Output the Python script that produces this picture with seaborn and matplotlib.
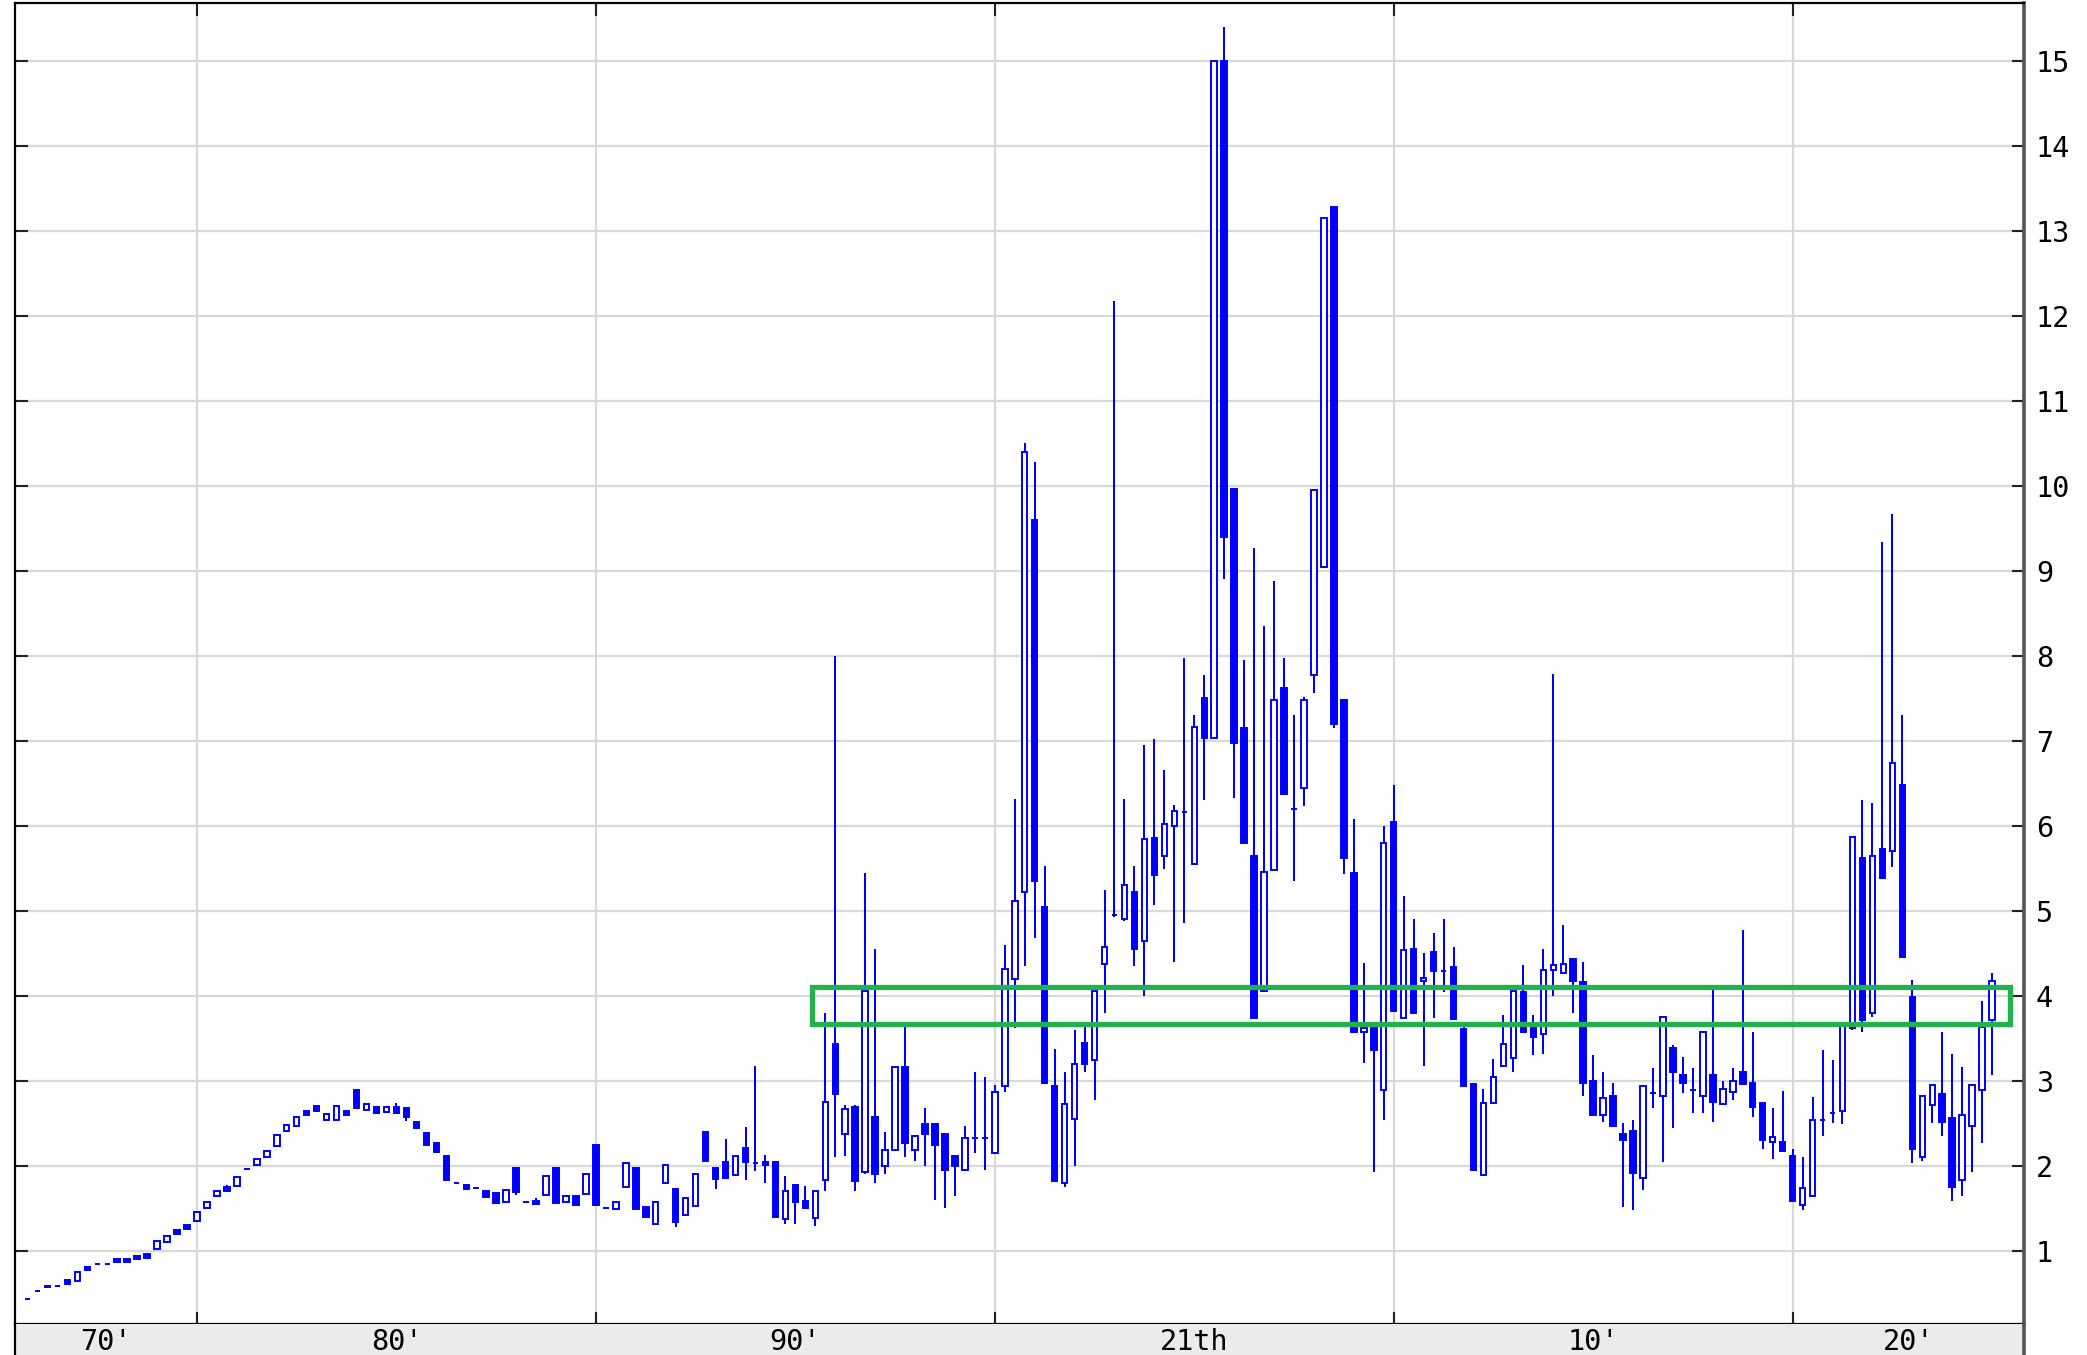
import numpy as np
import pandas as pd
import matplotlib
matplotlib.use("Agg")
import matplotlib.pyplot as plt
from matplotlib.patches import Rectangle
import seaborn as sns

# ---------------- data (quarterly candles) ----------------
opens = [
    0.43, 0.53, 0.59, 0.59, 0.66, 0.64, 0.81, 0.84, 0.84, 0.91,
    0.91, 0.94, 0.96, 1.02, 1.11, 1.25, 1.31, 1.35, 1.51, 1.64,
    1.75, 1.76, 1.96, 2.01, 2.10, 2.23, 2.41, 2.47, 2.64, 2.70,
    2.54, 2.54, 2.64, 2.89, 2.66, 2.69, 2.63, 2.69, 2.68, 2.52,
    2.39, 2.27, 2.12, 1.80, 1.77, 1.74, 1.71, 1.68, 1.57, 1.97,
    1.57, 1.59, 1.66, 1.98, 1.57, 1.65, 1.67, 2.25, 1.50, 1.49,
    1.75, 1.97, 1.52, 1.32, 1.80, 1.73, 1.42, 1.53, 2.40, 1.98,
    2.04, 1.89, 2.21, 2.03, 2.05, 2.04, 1.38, 1.78, 1.59, 1.39,
    1.83, 3.43, 2.38, 2.69, 1.93, 2.58, 2.00, 2.19, 3.16, 2.19,
    2.49, 2.49, 2.37, 2.12, 1.95, 2.33, 2.33, 2.15, 2.94, 4.20,
    5.22, 9.60, 5.05, 2.94, 1.80, 2.55, 3.45, 3.25, 4.37, 4.95,
    4.90, 5.22, 4.65, 5.86, 5.65, 6.00, 6.16, 5.55, 7.50, 7.03,
    15.00, 9.96, 7.15, 5.65, 4.06, 5.48, 7.62, 6.20, 6.45, 7.77,
    9.04, 13.28, 7.48, 5.45, 3.58, 3.63, 2.89, 6.05, 3.74, 4.55,
    4.17, 4.52, 4.29, 4.34, 3.61, 2.96, 1.89, 2.74, 3.17, 3.27,
    4.05, 3.67, 3.55, 4.30, 4.27, 4.43, 4.16, 3.00, 2.60, 2.82,
    2.38, 2.41, 1.86, 2.86, 2.82, 3.39, 3.07, 2.89, 2.82, 3.07,
    2.73, 2.87, 3.10, 2.98, 2.74, 2.28, 2.28, 2.12, 1.54, 1.65,
    2.54, 2.62, 2.64, 3.62, 5.62, 3.80, 5.73, 5.70, 6.48, 3.99,
    2.10, 2.72, 2.85, 2.56, 1.83, 2.47, 2.89, 3.72,
]
closes = [
    0.43, 0.53, 0.57, 0.59, 0.61, 0.75, 0.77, 0.84, 0.84, 0.87,
    0.87, 0.90, 0.92, 1.12, 1.18, 1.20, 1.26, 1.46, 1.58, 1.71,
    1.70, 1.87, 1.96, 2.08, 2.18, 2.36, 2.48, 2.58, 2.60, 2.65,
    2.61, 2.70, 2.60, 2.68, 2.73, 2.62, 2.69, 2.62, 2.58, 2.44,
    2.25, 2.16, 1.83, 1.80, 1.73, 1.74, 1.63, 1.56, 1.72, 1.69,
    1.57, 1.55, 1.88, 1.56, 1.64, 1.54, 1.91, 1.54, 1.50, 1.58,
    2.03, 1.49, 1.40, 1.58, 2.01, 1.34, 1.62, 1.91, 2.06, 1.85,
    1.86, 2.12, 2.04, 2.03, 2.01, 1.40, 1.71, 1.57, 1.51, 1.70,
    2.75, 2.85, 2.67, 1.82, 4.06, 1.90, 2.19, 3.16, 2.27, 2.35,
    2.38, 2.24, 1.95, 2.00, 2.33, 2.33, 2.33, 2.87, 4.32, 5.12,
    10.40, 5.35, 2.97, 1.82, 2.73, 3.20, 3.20, 4.06, 4.57, 4.95,
    5.30, 4.55, 5.85, 5.42, 6.02, 6.17, 6.16, 7.16, 7.03, 15.00,
    9.40, 6.97, 5.80, 3.74, 5.46, 7.48, 6.37, 6.20, 7.48, 9.95,
    13.15, 7.20, 5.62, 3.58, 3.62, 3.36, 5.80, 3.82, 4.54, 3.80,
    4.21, 4.29, 4.29, 3.73, 2.94, 1.95, 2.74, 3.05, 3.43, 4.06,
    3.58, 3.52, 4.31, 4.36, 4.37, 4.17, 2.98, 2.60, 2.80, 2.47,
    2.30, 1.92, 2.94, 2.86, 3.75, 3.10, 2.98, 2.89, 3.58, 2.75,
    2.90, 3.00, 2.96, 2.69, 2.31, 2.34, 2.17, 1.59, 1.74, 2.54,
    2.54, 2.62, 3.64, 5.87, 3.72, 5.64, 5.39, 6.74, 4.46, 2.20,
    2.82, 2.95, 2.52, 1.75, 2.60, 2.95, 3.63, 4.17,
]
highs = [
    0.43, 0.53, 0.59, 0.59, 0.66, 0.75, 0.81, 0.84, 0.84, 0.91,
    0.91, 0.94, 0.96, 1.12, 1.18, 1.25, 1.31, 1.46, 1.58, 1.71,
    1.78, 1.87, 1.96, 2.08, 2.18, 2.36, 2.48, 2.58, 2.64, 2.70,
    2.61, 2.70, 2.64, 2.89, 2.73, 2.69, 2.69, 2.74, 2.68, 2.52,
    2.39, 2.27, 2.12, 1.80, 1.77, 1.74, 1.71, 1.68, 1.72, 1.97,
    1.57, 1.62, 1.88, 1.98, 1.64, 1.65, 1.91, 2.25, 1.50, 1.58,
    2.03, 1.97, 1.52, 1.58, 2.01, 1.73, 1.62, 1.91, 2.40, 1.98,
    2.32, 2.12, 2.46, 3.17, 2.13, 2.04, 1.88, 1.78, 1.76, 1.70,
    3.80, 8.00, 2.72, 2.72, 5.45, 4.55, 2.40, 3.16, 3.64, 2.36,
    2.68, 2.49, 2.37, 2.12, 2.47, 3.10, 3.05, 2.95, 4.60, 6.32,
    10.50, 10.28, 5.53, 3.38, 3.10, 3.60, 3.67, 4.06, 5.25, 12.18,
    6.32, 5.53, 6.95, 7.02, 6.66, 6.24, 7.98, 7.30, 7.77, 15.00,
    15.40, 9.96, 7.95, 9.27, 8.35, 8.88, 7.97, 7.30, 7.52, 9.95,
    13.15, 13.28, 7.48, 6.08, 4.39, 3.63, 6.00, 6.48, 5.17, 4.91,
    4.51, 4.74, 4.91, 4.58, 3.63, 2.96, 2.90, 3.26, 3.77, 4.06,
    4.36, 3.78, 4.55, 7.79, 4.83, 4.43, 4.40, 3.30, 3.10, 2.97,
    2.50, 2.54, 2.94, 3.15, 3.75, 3.42, 3.28, 3.15, 3.58, 4.08,
    3.00, 3.15, 4.78, 3.58, 2.74, 2.68, 2.88, 2.20, 2.10, 2.81,
    3.36, 3.24, 3.64, 5.87, 6.30, 6.27, 9.34, 9.67, 7.31, 4.19,
    2.82, 2.95, 3.57, 3.32, 3.16, 2.95, 3.94, 4.27,
]
lows = [
    0.43, 0.53, 0.57, 0.59, 0.61, 0.64, 0.77, 0.84, 0.84, 0.87,
    0.87, 0.90, 0.92, 1.02, 1.11, 1.20, 1.26, 1.35, 1.51, 1.64,
    1.70, 1.76, 1.96, 2.01, 2.10, 2.23, 2.41, 2.47, 2.60, 2.65,
    2.54, 2.54, 2.60, 2.68, 2.66, 2.62, 2.63, 2.62, 2.53, 2.44,
    2.25, 2.16, 1.83, 1.80, 1.73, 1.74, 1.63, 1.56, 1.57, 1.66,
    1.57, 1.55, 1.66, 1.56, 1.57, 1.54, 1.67, 1.54, 1.50, 1.49,
    1.75, 1.49, 1.40, 1.32, 1.80, 1.28, 1.42, 1.53, 2.06, 1.73,
    1.86, 1.89, 1.83, 1.94, 1.80, 1.40, 1.32, 1.32, 1.51, 1.29,
    1.70, 2.10, 2.12, 1.70, 1.90, 1.80, 1.90, 2.19, 2.10, 2.06,
    2.00, 1.60, 1.50, 1.65, 1.95, 2.15, 1.95, 2.15, 2.87, 3.62,
    4.35, 4.68, 2.97, 1.82, 1.75, 2.00, 3.10, 2.78, 3.80, 4.93,
    4.88, 4.35, 4.00, 5.07, 5.49, 4.40, 4.86, 5.55, 6.31, 7.03,
    8.90, 6.33, 5.80, 3.74, 4.06, 5.48, 6.37, 5.35, 6.23, 7.56,
    9.04, 7.15, 5.43, 3.58, 3.21, 1.93, 2.54, 3.82, 3.74, 3.80,
    3.18, 3.74, 4.04, 3.73, 2.94, 1.95, 1.89, 2.74, 3.17, 3.10,
    3.58, 3.30, 3.32, 4.00, 4.27, 3.80, 2.82, 2.60, 2.52, 2.47,
    1.52, 1.48, 1.72, 2.68, 2.05, 2.45, 2.86, 2.62, 2.62, 2.52,
    2.73, 2.78, 2.96, 2.58, 2.20, 2.08, 2.17, 1.59, 1.48, 1.65,
    2.35, 2.50, 2.49, 3.60, 3.58, 3.75, 5.39, 5.52, 4.46, 2.03,
    2.06, 2.50, 2.35, 1.59, 1.65, 1.93, 2.27, 3.07,
]

# x-axis: decade labels placed in the bands between half-decade gridlines
grid_positions = [17, 57, 97, 137, 177]
label_positions = [7.9, 37, 77, 117, 157, 188.6]
label_texts = ["70'", "80'", "90'", "21th", "10'", "20'"]
y_ticks = list(range(1, 16))

# highlighted zone (green box)
zone_x = [78.7, 198.8]
zone_y = [3.67, 4.11]

# ---------------- style ----------------
sns.set_theme(style="white")
plt.rcParams["font.family"] = ["DejaVu Sans Mono", "DejaVu Sans"]

BLUE = "#0000ff"
df = pd.DataFrame({"open": opens, "high": highs, "low": lows, "close": closes})
df["x"] = np.arange(len(df))
df["up"] = df["close"] >= df["open"]
df["bottom"] = df[["open", "close"]].min(axis=1)
df["height"] = (df["close"] - df["open"]).abs()

W, H = 2087, 1355
fig = plt.figure(figsize=(W / 100, H / 100), dpi=100)
left, right = 15 / W, 2024 / W
bottom, top = 1 - 1324 / H, 1 - 3 / H
ax = fig.add_axes([left, bottom, right - left, top - bottom])
ax.set_facecolor("white")

xlim = (-1.25, 200.2)
ylim = (0.14, 15.68)

# gridlines
for g in grid_positions:
    ax.axvline(g, color="#d9d9d9", lw=1.6, zorder=0)
for yv in y_ticks:
    ax.axhline(yv, color="#d9d9d9", lw=1.6, zorder=0)

# wicks
ax.vlines(df["x"], df["low"], df["high"], color=BLUE, lw=1.45, zorder=2)
# bodies
faces = np.where(df["up"], "white", BLUE)
ax.bar(df["x"], df["height"], bottom=df["bottom"], width=0.55,
       color=faces, edgecolor=BLUE, linewidth=1.4, zorder=3)

# highlight box
ax.add_patch(Rectangle((zone_x[0], zone_y[0]), zone_x[1] - zone_x[0],
                       zone_y[1] - zone_y[0], fill=False,
                       edgecolor="#22b14c", lw=3.8, zorder=5))

ax.set_xlim(*xlim)
ax.set_ylim(*ylim)

ax.set_xticks(grid_positions)
ax.set_xticklabels([])
ax.set_yticks(y_ticks)
ax.yaxis.tick_right()
ax.tick_params(axis="y", which="both", direction="in", length=9, width=1.5,
               color="#222222", left=True, right=True, labelleft=False,
               labelright=True, labelsize=20.5, pad=8.5, labelcolor="black")
ax.tick_params(axis="x", which="both", direction="in", length=9, width=1.5,
               color="#222222", top=True, bottom=True, labelbottom=False)
for s in ["left", "top", "bottom"]:
    ax.spines[s].set_color("black")
    ax.spines[s].set_linewidth(1.6)
ax.spines["right"].set_color("#555555")
ax.spines["right"].set_linewidth(2.6)

# bottom label band
band = fig.add_axes([left, 0, right - left, bottom])
band.set_facecolor("#ebebeb")
band.set_xlim(*xlim)
band.set_ylim(0, 1)
band.set_xticks([])
band.set_yticks([])
band.spines["top"].set_visible(False)
band.spines["bottom"].set_visible(False)
band.spines["left"].set_color("black")
band.spines["left"].set_linewidth(1.6)
band.spines["right"].set_color("#555555")
band.spines["right"].set_linewidth(2.6)
for xp, lab in zip(label_positions, label_texts):
    band.text(xp, 0.42, lab, ha="center", va="center", fontsize=20.5,
              color="black")

fig.savefig("out.png", dpi=100, facecolor="white")
